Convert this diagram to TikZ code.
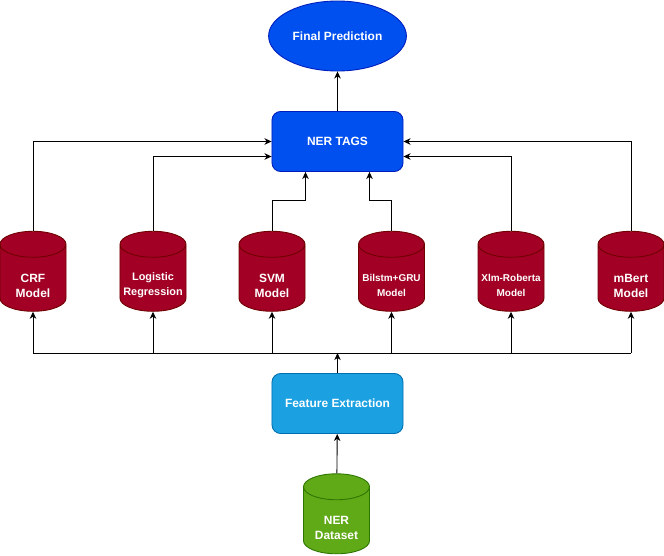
\documentclass[tikz,border=0pt]{standalone}
\usepackage{fontspec}
\setmainfont{Liberation Sans}
\usepackage{tikz}
\usetikzlibrary{calc}
\usetikzlibrary{arrows.meta}
\usetikzlibrary{shapes.geometric}
\usetikzlibrary{positioning}
\definecolor{nerblue}{HTML}{0050EF}
\definecolor{nerblueline}{HTML}{001DBC}
\definecolor{featblue}{HTML}{1BA1E2}
\definecolor{featblueline}{HTML}{006EAF}
\definecolor{modelred}{HTML}{A20025}
\definecolor{modelredline}{HTML}{6F0000}
\definecolor{datagreen}{HTML}{60A917}
\definecolor{datagreenline}{HTML}{2D7600}
\tikzset{>={Stealth[length=6pt,width=5.5pt,inset=1.8pt]}}
\tikzset{every path/.style = {line width=0.75pt}}
\tikzstyle{txt} = [text=white, font=\fontsize{10.2}{12.75}\selectfont\bfseries, align=center]
\tikzstyle{tagbox} = [rectangle, rounded corners=2.6mm, txt, minimum width=3.93cm, minimum height=1.8cm]
\tikzstyle{db} = [cylinder, shape border rotate=90, aspect=0.41, text width=1.9cm, minimum width=1.98cm, minimum height=2.4cm, inner sep=0pt]
\tikzstyle{modeldb} = [db, fill=modelred, draw=modelredline]
\tikzset{dbtext/.style 2 args = {label={[txt, font=\fontsize{#1}{12.75}\selectfont\bfseries, yshift=-0.225cm]center:#2}}}

\begin{document}
\begin{tikzpicture}[x=0.03cm, y=-0.03cm]
\useasboundingbox (0,0) rectangle (664,556);
\node [ellipse, txt, fill=nerblue, draw=nerblueline, minimum width=3.27cm, minimum height=2.1cm] (pred) at (337.5, 36) {Final Prediction};
\node [tagbox, fill=nerblue, draw=nerblueline] (tags) at (337.5, 141.5) {NER TAGS};
\node [modeldb, dbtext={10.2}{CRF\\Model}] (crf) at (33, 278) {};
\node [modeldb, dbtext={9.3}{Logistic\\Regression}] (logreg) at (153, 278) {};
\node [modeldb, dbtext={10.2}{SVM\\Model}] (svm) at (272, 278) {};
\node [modeldb, dbtext={8.5}{Bilstm+GRU\\Model}] (bilstm) at (391.5, 278) {};
\node [modeldb, dbtext={8.5}{Xlm-Roberta\\Model}] (xlmr) at (511, 278) {};
\node [modeldb, dbtext={10.2}{mBert\\Model}] (mbert) at (631, 278) {};
\node [tagbox, fill=featblue, draw=featblueline] (feat) at (337.5, 403.5) {Feature Extraction};
\node [db, fill=datagreen, draw=datagreenline, label={[txt, yshift=-0.21cm]center:{NER\\Dataset}}] (data) at (336.5, 520.5) {};
\draw [->] (tags) to (pred);
\draw [->] (crf.north) |- (tags.west);
\draw [->] (logreg.north) |- ($(tags.west)+(0,15)$);
\draw [->] (svm.north) -- ++(0,-30) -| ($(tags.south)+(-32,0)$);
\draw [->] (bilstm.north) -- ++(0,-30) -| ($(tags.south)+(32,0)$);
\draw [->] (xlmr.north) |- ($(tags.east)+(0,15)$);
\draw [->] (mbert.north) |- (tags.east);
\coordinate (bus) at ($(feat.north)+(0,-20)$);
\draw [->] (feat) to (bus);
\draw (bus -| crf) -- (bus -| mbert);
\foreach \m in {crf, logreg, svm, bilstm, xlmr, mbert}
  \draw [->] (bus -| \m) -- (\m.south);
\draw [->] (data) to (feat);
\end{tikzpicture}
\end{document}
